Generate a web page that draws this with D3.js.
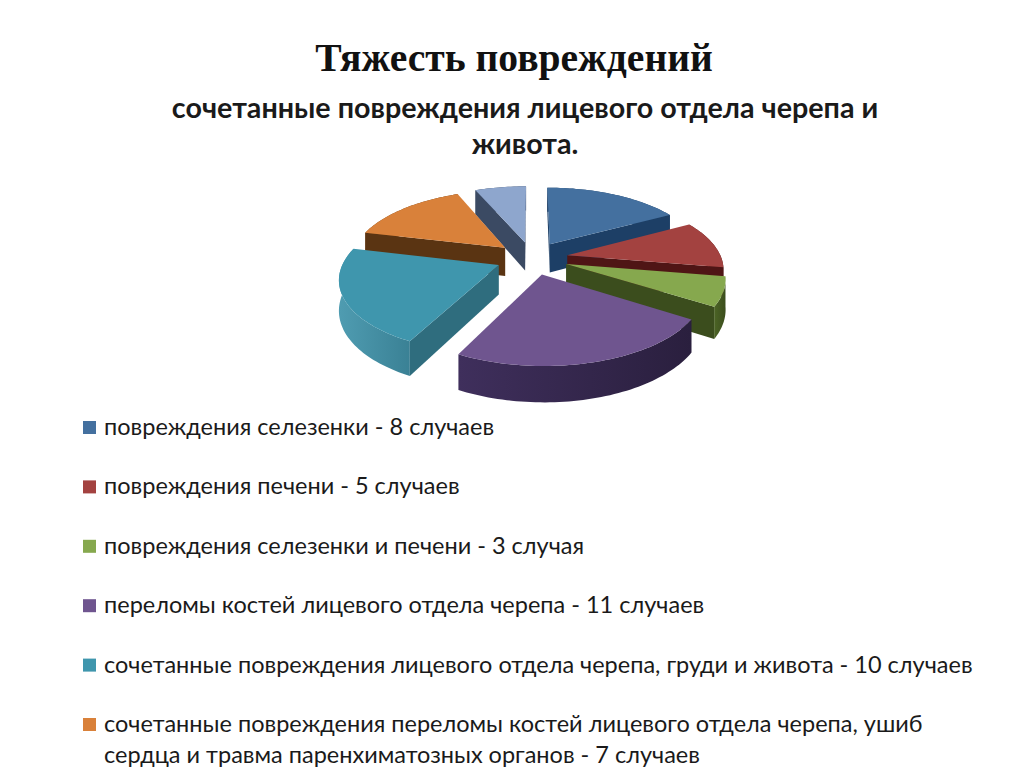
<!DOCTYPE html>
<html>
<head>
<meta charset="utf-8">
<script src="https://cdnjs.cloudflare.com/ajax/libs/d3/7.8.5/d3.min.js"></script>
<style>
  html, body { margin: 0; padding: 0; background: #fff; overflow: hidden; }
  svg { display: block; }
</style>
</head>
<body>
<svg class="chart"></svg>
<script>
// slices in clockwise order from 12 o'clock, the last one has no legend entry
var values = [8, 5, 3, 11, 10, 7, 3]
var topColors = ["#44709f", "#a34240", "#86a84e", "#6f558f", "#3f96ad", "#d9813a", "#8ea6cd"]
var sideColors = ["#1d3f66", "#4f1515", "#3b4d1d", "#2e2243", "#2f6d7e", "#5a3412", "#3b4a63"]
var wallLeft = ["#1d3f66", "#6b2a28", "#4c6425", "#3f2f5c", "#4f9cb1", "#7a4a1e", "#3b4a63"]
var wallRight = ["#1d3f66", "#4f1515", "#3b4d1d", "#2a1f3e", "#3a8195", "#5a3412", "#3b4a63"]

var titleText = "Тяжесть повреждений"
var subtitleLines = ["сочетанные повреждения лицевого отдела черепа и", "живота."]
var legendLabels = [
    ["повреждения селезенки - 8 случаев"],
    ["повреждения печени - 5 случаев"],
    ["повреждения селезенки и печени - 3 случая"],
    ["переломы костей лицевого отдела черепа - 11 случаев"],
    ["сочетанные повреждения лицевого отдела черепа, груди и живота - 10 случаев"],
    ["сочетанные повреждения переломы костей лицевого отдела черепа, ушиб", "сердца и травма паренхиматозных органов - 7 случаев"]
]

// back to front, so nearer slices cover the walls of the ones behind them
var drawOrder = [6, 5, 0, 1, 2, 4, 3]

var width = 1024, height = 767,
    cx = 532, cy = 258,
    radius = 154, explode = 36,
    tilt = 0.456, eye = 929, depth = 29

var svg = d3.select(".chart")
    .attr("width", width)
    .attr("height", height)

svg.append("text")
    .attr("x", 514)
    .attr("y", 71)
    .attr("text-anchor", "middle")
    .style("font", "bold 39.6px 'Liberation Serif'")
    .style("fill", "#111")
    .text(titleText)

svg.selectAll(".subtitle")
    .data(subtitleLines)
    .enter().append("text")
    .attr("class", "subtitle")
    .attr("x", 525)
    .attr("y", (d, i) => 118 + i * 36)
    .attr("text-anchor", "middle")
    .style("font", "bold 28.7px Lato")
    .style("fill", "#1a1a1a")
    .text(d => d)

var pie = d3.pie().sort(null)
var slices = pie(values)

// ground plane position -> screen, the front of the pie comes out bigger
function project(x, y, z) {
    var s = eye / (eye - y)
    return [cx + x * s, cy + y * tilt * s + z * s]
}

function slicePoint(d, angle, r, z) {
    var mid = (d.startAngle + d.endAngle) / 2
    var x = Math.sin(mid) * explode + Math.sin(angle) * r
    var y = -Math.cos(mid) * explode - Math.cos(angle) * r
    return project(x, y, z)
}

function arcPoints(d, z) {
    var n = Math.ceil((d.endAngle - d.startAngle) * 40)
    return d3.range(n + 1).map(i => slicePoint(d, d.startAngle + (d.endAngle - d.startAngle) * i / n, radius, z))
}

var line = d3.line()
var defs = svg.append("defs")
var pieG = svg.append("g").attr("class", "pie")

drawOrder.forEach(function(i) {
    var d = slices[i]
    var g = pieG.append("g")
    var topArc = arcPoints(d, 0)
    var bottomArc = arcPoints(d, depth)
    var xs = d3.extent(topArc, p => p[0])

    var grad = defs.append("linearGradient")
        .attr("id", "wall" + i)
        .attr("gradientUnits", "userSpaceOnUse")
        .attr("x1", xs[0]).attr("x2", xs[1])
        .attr("y1", 0).attr("y2", 0)
    grad.append("stop").attr("offset", 0).attr("stop-color", wallLeft[i])
    grad.append("stop").attr("offset", 1).attr("stop-color", wallRight[i])

    g.append("path")
        .attr("d", line(topArc.concat(bottomArc.slice().reverse())) + "Z")
        .attr("fill", "url(#wall" + i + ")")

    // the two cut faces, only the one turned towards us is drawn
    var apexTop = slicePoint(d, 0, 0, 0), apexBottom = slicePoint(d, 0, 0, depth)
    ;[topArc[0], topArc[topArc.length - 1]].forEach(function(p, k) {
        var cross = (p[0] - apexTop[0]) * depth
        var facing = k == 0 ? cross < 0.5 : cross > -0.5
        if (!facing) return
        var q = k == 0 ? bottomArc[0] : bottomArc[bottomArc.length - 1]
        g.append("path")
            .attr("d", line([apexTop, p, q, apexBottom]) + "Z")
            .attr("fill", sideColors[i])
    })

    g.append("path")
        .attr("d", line([apexTop].concat(topArc)) + "Z")
        .attr("fill", topColors[i])
})

var legendY = d3.scaleLinear().domain([0, 5]).range([435, 732])

var legend = svg.selectAll(".legend")
    .data(legendLabels)
    .enter().append("g")
    .attr("class", "legend")
    .attr("transform", (d, i) => "translate(0," + legendY(i) + ")")

legend.append("rect")
    .attr("x", 83)
    .attr("y", -14)
    .attr("width", 13)
    .attr("height", 13)
    .attr("fill", (d, i) => topColors[i])

legend.selectAll("text")
    .data(d => d)
    .enter().append("text")
    .attr("x", 104)
    .attr("y", (d, i) => i * 31)
    .style("font", "23.5px Lato")
    .style("fill", "#1a1a1a")
    .text(d => d)
</script>
</body>
</html>
